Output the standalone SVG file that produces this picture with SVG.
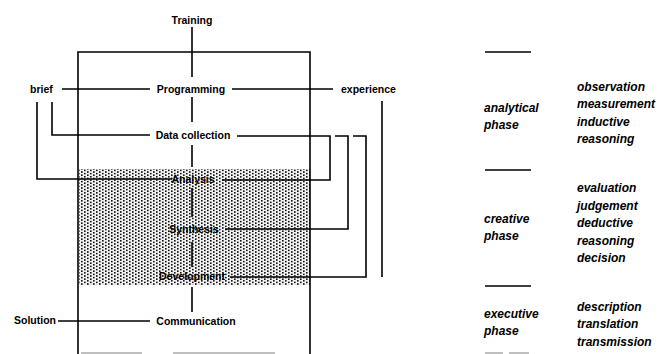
<svg xmlns="http://www.w3.org/2000/svg" width="661" height="354" viewBox="0 0 661 354">
<style>
.ln{fill:none;stroke:#000;stroke-width:1.6}
.gr{fill:none;stroke:#aaa;stroke-width:1.4}
.lb{font-family:"Liberation Sans",Arial,sans-serif;font-weight:bold;font-size:10.5px;fill:#000}
.it{font-family:"Liberation Sans",Arial,sans-serif;font-weight:bold;font-style:italic;font-size:12px;fill:#000}
</style>
<defs>
<pattern id="dots" width="6" height="3.2" patternUnits="userSpaceOnUse">
<rect width="6" height="3.2" fill="#f2f2f2"/>
<rect x="0" y="0" width="1.6" height="1.6" fill="#111"/>
<rect x="3" y="1.6" width="1.6" height="1.6" fill="#111"/>
</pattern>
</defs>
<rect id="shade" x="79" y="169" width="231" height="116" fill="url(#dots)"/>
<g id="frame">
<path class="ln" d="M78,354 V52 H310 V354"/>
<path class="gr" d="M81,353 H142 M173,353 H275"/>
</g>
<g id="connectors">
<path class="ln" d="M192,27 V77"/>
<path class="ln" d="M192,97 V122 M192,145 V167 M192,188 V217 M192,242 V267 M192,287 V312"/>
<path class="ln" d="M62,89 H150 M232,89 H333"/>
<path class="ln" d="M37,102 V179 H172"/>
<path class="ln" d="M52,102 V135 H150"/>
<path class="ln" d="M237,136 H330 V180 H222"/>
<path class="ln" d="M335,136 H348 V229 H225"/>
<path class="ln" d="M353,136 H366 V277 H230"/>
<path class="ln" d="M382,101 V277"/>
<path class="ln" d="M58,321 H150"/>
</g>
<g id="n-training"><text class="lb" x="192" y="24" text-anchor="middle">Training</text></g>
<g id="n-brief"><text class="lb" x="30" y="93">brief</text></g>
<g id="n-programming"><text class="lb" x="191" y="93" text-anchor="middle">Programming</text></g>
<g id="n-experience"><text class="lb" x="341" y="93">experience</text></g>
<g id="n-datacollection"><text class="lb" x="193" y="139" text-anchor="middle">Data collection</text></g>
<g id="n-analysis"><text class="lb" x="193" y="183" text-anchor="middle">Analysis</text></g>
<g id="n-synthesis"><text class="lb" x="194" y="233" text-anchor="middle">Synthesis</text></g>
<g id="n-development"><text class="lb" x="192" y="280" text-anchor="middle">Development</text></g>
<g id="n-communication"><text class="lb" x="196" y="325" text-anchor="middle">Communication</text></g>
<g id="n-solution"><text class="lb" x="14" y="324">Solution</text></g>
<g id="legend">
<path class="ln" d="M485,52 H531 M485,170 H531 M485,286 H531"/>
<path class="gr" d="M485,353 H503 M509,353 H529"/>
<text class="it" x="484" y="112">analytical</text>
<text class="it" x="484" y="129">phase</text>
<text class="it" x="577" y="91">observation</text>
<text class="it" x="577" y="108">measurement</text>
<text class="it" x="577" y="126">inductive</text>
<text class="it" x="577" y="143">reasoning</text>
<text class="it" x="484" y="223">creative</text>
<text class="it" x="484" y="240">phase</text>
<text class="it" x="577" y="192">evaluation</text>
<text class="it" x="577" y="210">judgement</text>
<text class="it" x="577" y="227">deductive</text>
<text class="it" x="577" y="245">reasoning</text>
<text class="it" x="577" y="262">decision</text>
<text class="it" x="484" y="318">executive</text>
<text class="it" x="484" y="335">phase</text>
<text class="it" x="577" y="311">description</text>
<text class="it" x="577" y="328">translation</text>
<text class="it" x="577" y="346">transmission</text>
</g>
</svg>
